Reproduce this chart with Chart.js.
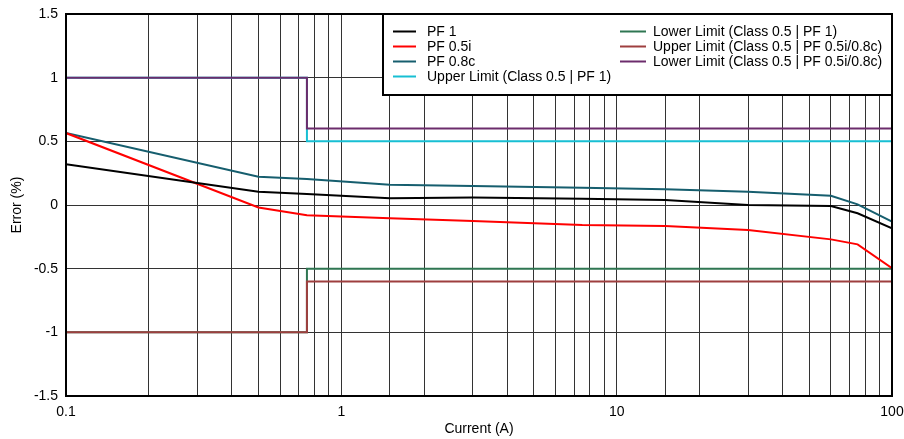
<!DOCTYPE html>
<html>
<head>
<meta charset="utf-8">
<script src="https://cdn.jsdelivr.net/npm/chart.js@4.4.1/dist/chart.umd.min.js"></script>
<style>
  html, body { margin: 0; padding: 0; background: #fff; }
  #wrap { width: 904px; height: 439px; position: relative; }
</style>
</head>
<body>
<div id="wrap"><canvas id="c" width="904" height="439"></canvas></div>
<script>
// ---- data ----
const currentA = [0.1, 0.5, 0.75, 1.5, 3, 7.5, 15, 30, 60, 75, 100];
const pf1      = [0.32, 0.105, 0.086, 0.053, 0.058, 0.05, 0.039, 0.0, -0.008, -0.065, -0.183];
const pf05i    = [0.565, -0.02, -0.08, -0.105, -0.126, -0.157, -0.165, -0.196, -0.27, -0.309, -0.497];
const pf08c    = [0.565, 0.222, 0.204, 0.16, 0.149, 0.136, 0.123, 0.105, 0.073, 0.005, -0.13];

const limitX          = [0.1, 0.75, 0.75, 100];
const upperPF1        = [1, 1, 0.5, 0.5];
const lowerPF1        = [-1, -1, -0.5, -0.5];
const upperPF05i08c   = [-1, -1, -0.6, -0.6];
const lowerPF05i08c   = [1, 1, 0.6, 0.6];

const seriesLabels = [
  'PF 1', 'PF 0.5i', 'PF 0.8c',
  'Upper Limit (Class 0.5 | PF 1)',
  'Lower Limit (Class 0.5 | PF 1)',
  'Upper Limit (Class 0.5 | PF 0.5i/0.8c)',
  'Lower Limit (Class 0.5 | PF 0.5i/0.8c)'
];
const yTickLabels = ['-1.5', '-1', '-0.5', '0', '0.5', '1', '1.5'];
const xTickLabels = ['0.1', '1', '10', '100'];

const colors = ['#000000', '#ff0000', '#165e6e', '#17bfd3', '#2f7652', '#9e3f3f', '#6c2c6c'];
const FONT = "'Liberation Sans', Arial, sans-serif";

function pts(xs, ys) { return xs.map((x, i) => ({ x: x, y: ys[i] })); }

const seriesData = [
  pts(currentA, pf1), pts(currentA, pf05i), pts(currentA, pf08c),
  pts(limitX, upperPF1), pts(limitX, lowerPF1),
  pts(limitX, upperPF05i08c), pts(limitX, lowerPF05i08c)
];
const drawOrder = [0, 1, 2, 6, 5, 4, 3];

const datasets = seriesData.map((d, i) => ({
  label: seriesLabels[i],
  data: d,
  borderColor: colors[i],
  backgroundColor: colors[i],
  borderWidth: 2,
  pointRadius: 0,
  tension: 0,
  fill: false,
  order: drawOrder[i]
}));

const frameAndLegend = {
  id: 'frameAndLegend',
  afterDatasetsDraw(chart) {
    const ctx = chart.ctx, a = chart.chartArea;
    ctx.save();
    ctx.strokeStyle = '#000';
    ctx.lineWidth = 2;
    ctx.strokeRect(a.left, a.top, a.right - a.left, a.bottom - a.top);
    // legend box
    const bx = 383, by = a.top, bw = a.right - bx, bh = 81;
    ctx.fillStyle = '#fff';
    ctx.fillRect(bx, by, bw, bh);
    ctx.strokeRect(bx, by, bw, bh);
    ctx.font = '14px ' + FONT;
    ctx.textBaseline = 'middle';
    ctx.textAlign = 'left';
    const ds = chart.data.datasets;
    for (let i = 0; i < ds.length; i++) {
      const col = i < 4 ? 0 : 1;
      const row = i < 4 ? i : i - 4;
      const lx0 = col === 0 ? 393 : 620;
      const lx1 = col === 0 ? 416 : 646;
      const tx = col === 0 ? 427 : 653;
      const y = by + 17.5 + row * 15;
      ctx.strokeStyle = ds[i].borderColor;
      ctx.lineWidth = 2;
      ctx.beginPath();
      ctx.moveTo(lx0, y);
      ctx.lineTo(lx1, y);
      ctx.stroke();
      ctx.fillStyle = '#000';
      ctx.fillText(ds[i].label, tx, y + 0.5);
    }
    ctx.restore();
  }
};

new Chart(document.getElementById('c'), {
  type: 'line',
  data: { datasets: datasets },
  options: {
    responsive: false,
    animation: false,
    devicePixelRatio: 1,
    layout: { padding: { left: 5, right: 12, top: 14, bottom: 0 } },
    plugins: { legend: { display: false }, tooltip: { enabled: false } },
    scales: {
      x: {
        type: 'logarithmic',
        min: 0.1, max: 100,
        afterFit(s) { s.height = 43; s.paddingLeft = 0; s.paddingRight = 0; },
        grid: { color: '#333', lineWidth: 1, drawTicks: false },
        border: { display: false },
        ticks: {
          autoSkip: false, maxRotation: 0, padding: 8,
          color: '#000', font: { family: FONT, size: 14 },
          callback(v) {
            const l = Math.log10(v);
            if (Math.abs(l - Math.round(l)) < 1e-9) {
              const idx = Math.round(l) + 1;
              return xTickLabels[idx];
            }
            return '';
          }
        },
        title: { display: true, text: 'Current (A)', color: '#000', font: { family: FONT, size: 14 }, padding: { top: 0, bottom: 1 } }
      },
      y: {
        min: -1.5, max: 1.5,
        afterFit(s) { s.width = 61; s.paddingTop = 0; s.paddingBottom = 0; },
        grid: { color: '#333', lineWidth: 1, drawTicks: false },
        border: { display: false },
        ticks: {
          stepSize: 0.5, padding: 8,
          color: '#000', font: { family: FONT, size: 14 },
          callback(v) {
            const idx = Math.round((v + 1.5) / 0.5);
            return yTickLabels[idx];
          }
        },
        title: { display: true, text: 'Error (%)', color: '#000', font: { family: FONT, size: 14 }, padding: { top: 4, bottom: 4 } }
      }
    }
  },
  plugins: [frameAndLegend]
});
</script>
</body>
</html>
